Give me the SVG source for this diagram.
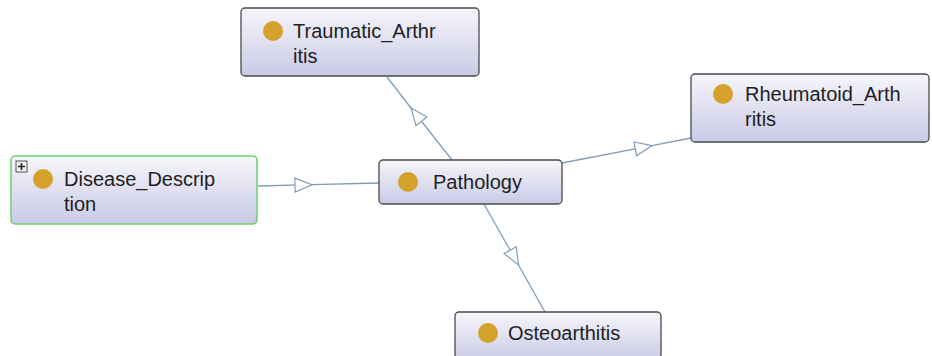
<svg xmlns="http://www.w3.org/2000/svg" width="932" height="356" viewBox="0 0 932 356">
<style>
.node{fill:url(#g);stroke:#4a4a4a;stroke-width:1.3}
.sel{fill:url(#g);stroke:#6ccf6c;stroke-width:1.5}
.dot{fill:#d4a12c}
.t{font-family:"Liberation Sans",Arial,sans-serif;font-size:20px;fill:#1e1e1e}
.e{fill:none;stroke:#7f9db9;stroke-width:1.3;marker-mid:url(#tri)}
</style>
<defs>
<linearGradient id="g" x1="0" y1="0" x2="0" y2="1">
<stop offset="0" stop-color="#f6f6fb"/>
<stop offset="1" stop-color="#c9c9e6"/>
</linearGradient>
<marker id="tri" markerUnits="userSpaceOnUse" markerWidth="20" markerHeight="16" refX="18" refY="8" orient="auto">
<path d="M1,1 L18,8 L1,15 z" fill="#ffffff" stroke="#7f9db9" stroke-width="1.2"/>
</marker>
</defs>
<rect width="932" height="356" fill="#ffffff"/>
<g id="connectors">
<path class="e" d="M452,160 L411,108 L387,77"/>
<path class="e" d="M258,186 L312,184.7 L379,183"/>
<path class="e" d="M562,163 L652,145.6 L691,138"/>
<path class="e" d="M484,204 L518.5,265 L545,312"/>
</g>
<g id="Traumatic_Arthritis">
<rect class="node" x="241" y="8" width="238" height="68" rx="4"/>
<circle class="dot" cx="273" cy="31" r="10"/>
<text class="t" x="293" y="38">Traumatic_Arthr</text>
<text class="t" x="293" y="63">itis</text>
</g>
<g id="Disease_Description">
<rect class="sel" x="11" y="156" width="246" height="68" rx="4"/>
<rect x="16" y="161" width="11" height="11" fill="#f0f0f0" stroke="#555" stroke-width="1"/>
<path d="M18,166.5 H25 M21.5,163 V170" stroke="#222" stroke-width="1.6"/>
<circle class="dot" cx="43" cy="179" r="10"/>
<text class="t" x="64" y="186">Disease_Descrip</text>
<text class="t" x="64" y="211">tion</text>
</g>
<g id="Pathology">
<rect class="node" x="379" y="160" width="183" height="44" rx="4"/>
<circle class="dot" cx="408" cy="182" r="10"/>
<text class="t" x="433" y="189">Pathology</text>
</g>
<g id="Rheumatoid_Arthritis">
<rect class="node" x="691" y="74" width="238" height="68" rx="4"/>
<circle class="dot" cx="723" cy="94" r="10"/>
<text class="t" x="745" y="101">Rheumatoid_Arth</text>
<text class="t" x="745" y="126">ritis</text>
</g>
<g id="Osteoarthitis">
<rect class="node" x="455" y="312" width="206" height="50" rx="4"/>
<circle class="dot" cx="488" cy="333" r="10"/>
<text class="t" x="508" y="340">Osteoarthitis</text>
</g>
</svg>
